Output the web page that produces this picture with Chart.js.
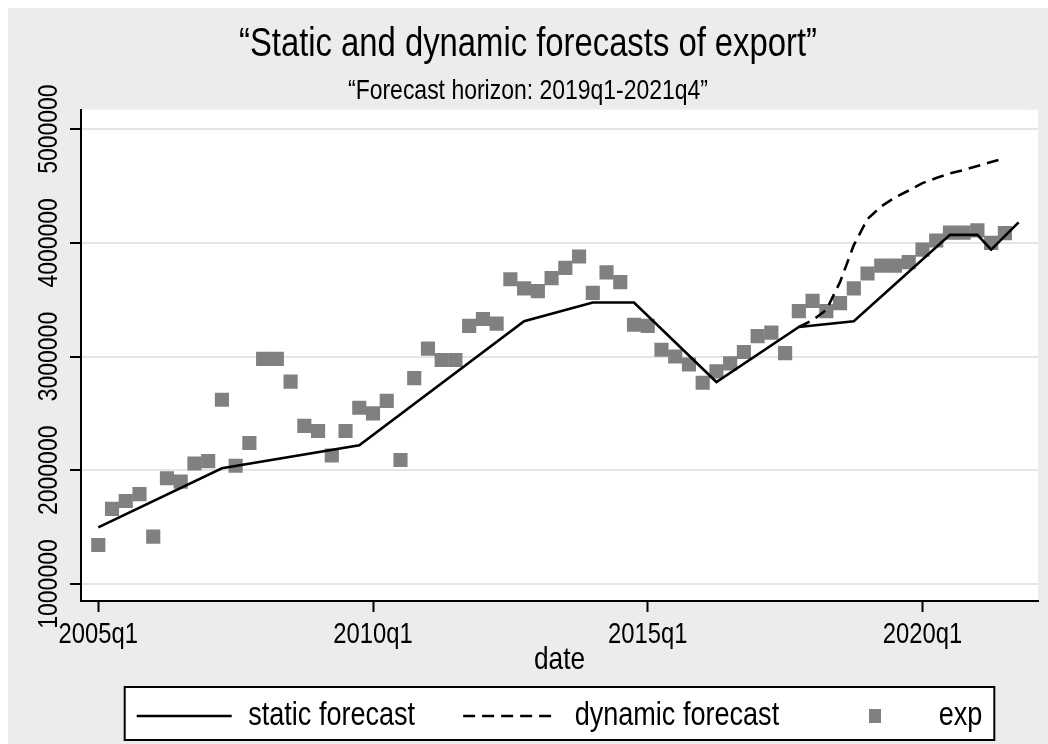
<!DOCTYPE html>
<html>
<head>
<meta charset="utf-8">
<script src="https://cdn.jsdelivr.net/npm/chart.js@4/dist/chart.umd.min.js"></script>
<style>
  html, body { margin: 0; padding: 0; background: #ffffff; }
  canvas { display: block; }
</style>
</head>
<body>
<canvas id="chart" width="1048" height="744"></canvas>
<script>
// Quarterly dates 2005q1 .. 2021q4
const quarters = [];
for (let yr = 2005; yr <= 2021; yr++) for (let q = 1; q <= 4; q++) quarters.push(yr + 'q' + q);

// Exports (observed), 2005q1 .. 2021q3
const expValues = [
  1343000, 1660000, 1730000, 1790000, 1416000, 1930000, 1900000, 2060000,
  2080000, 2620000, 2040000, 2240000, 2980000, 2980000, 2780000, 2390000,
  2345000, 2130000, 2345000, 2550000, 2500000, 2610000, 2090000, 2810000,
  3070000, 2970000, 2970000, 3270000, 3330000, 3290000, 3680000, 3600000,
  3575000, 3690000, 3780000, 3880000, 3560000, 3740000, 3655000, 3280000,
  3270000, 3060000, 3000000, 2930000, 2770000, 2870000, 2940000, 3040000,
  3180000, 3210000, 3030000, 3400000, 3490000, 3400000, 3470000, 3600000,
  3730000, 3800000, 3800000, 3830000, 3940000, 4020000, 4090000, 4090000,
  4110000, 4000000, 4085000
];

// Static forecast: quarter index -> value (connected across missing quarters)
const staticQuarterIdx = [0, 9, 19, 31, 36, 39, 45, 51, 55, 62, 64, 65, 67];
const staticValues = [1498000, 2017000, 2220000, 3310000, 3475000, 3475000, 2776000,
                      3260000, 3310000, 4070000, 4070000, 3940000, 4180000];

// Dynamic forecast: 2017q4 .. 2021q3
const dynamicStartIdx = 51;
const dynamicValues = [3260000, 3320000, 3410000, 3655000, 3980000, 4210000, 4320000, 4400000,
                       4460000, 4525000, 4570000, 4610000, 4640000, 4675000, 4710000, 4745000];

const xTickIdx = [0, 20, 40, 60];
const xTickLabels = ['2005q1', '2010q1', '2015q1', '2020q1'];
const yTickValues = [1000000, 2000000, 3000000, 4000000, 5000000];
const yTickLabels = ['1000000', '2000000', '3000000', '4000000', '5000000'];

const seriesNames = ['static forecast', 'dynamic forecast', 'exp'];
const titleText = '\u201CStatic and dynamic forecasts of export\u201D';
const subtitleText = '\u201CForecast horizon: 2019q1-2021q4\u201D';
const xAxisTitle = 'date';

const FONT = "'Liberation Sans', Arial, sans-serif";
const REGION_BG = 'rgb(235,236,236)';
const GRID = 'rgb(228,229,229)';
const MARKER = 'rgb(128,128,128)';
const DASH = [12, 7];
const LINE_W = 2.6;

const canvas = document.getElementById('chart');
const context = canvas.getContext('2d');

// Condensed lettering: every text run is squeezed horizontally about its anchor,
// and measured widths are reported squeezed too so the layout stays consistent.
const SQUEEZE = 0.82;
(function (c) {
  const proto = CanvasRenderingContext2D.prototype;
  c.fillText = function (text, x, y, maxWidth) {
    this.save();
    this.translate(x, y);
    this.scale(SQUEEZE, 1);
    if (maxWidth === undefined || maxWidth === null) proto.fillText.call(this, text, 0, 0);
    else proto.fillText.call(this, text, 0, 0, maxWidth / SQUEEZE);
    this.restore();
  };
  c.measureText = function (text) {
    const m = proto.measureText.call(this, text);
    return {
      width: m.width * SQUEEZE,
      actualBoundingBoxLeft: m.actualBoundingBoxLeft * SQUEEZE,
      actualBoundingBoxRight: m.actualBoundingBoxRight * SQUEEZE,
      actualBoundingBoxAscent: m.actualBoundingBoxAscent,
      actualBoundingBoxDescent: m.actualBoundingBoxDescent,
      fontBoundingBoxAscent: m.fontBoundingBoxAscent,
      fontBoundingBoxDescent: m.fontBoundingBoxDescent
    };
  };
})(context);

const expPoints = expValues.map((v, i) => ({ x: i, y: v }));
const staticPoints = staticQuarterIdx.map((q, i) => ({ x: q, y: staticValues[i] }));
const dynamicPoints = dynamicValues.map((v, i) => ({ x: dynamicStartIdx + i, y: v }));

// legend key for the marker series
const keySquare = document.createElement('canvas');
keySquare.width = 12; keySquare.height = 14;
(function () { const c = keySquare.getContext('2d'); c.fillStyle = MARKER; c.fillRect(0, 0, 12, 14); })();

const backdrop = {
  id: 'backdrop',
  beforeDraw(chart) {
    const { ctx, chartArea: a, legend } = chart;
    ctx.save();
    ctx.fillStyle = '#ffffff';
    ctx.fillRect(0, 0, chart.width, chart.height);
    ctx.fillStyle = REGION_BG;
    ctx.fillRect(8, 8, chart.width - 8, chart.height - 8);
    ctx.fillStyle = '#ffffff';
    ctx.fillRect(a.left, a.top, a.right - a.left, a.bottom - a.top);
    if (legend && legend.legendHitBoxes && legend.legendHitBoxes.length) {
      const hb = legend.legendHitBoxes;
      const first = hb[0], last = hb[hb.length - 1];
      const cy = first.top + first.height / 2;
      const l = first.left - 12, r = last.left + last.width + 12;
      const t = cy - 29, b = cy + 24;
      ctx.fillStyle = '#ffffff';
      ctx.fillRect(l, t, r - l, b - t);
      ctx.strokeStyle = '#000000';
      ctx.lineWidth = 2;
      ctx.strokeRect(l, t, r - l, b - t);
    }
    ctx.restore();
  }
};

const yLabels = {
  id: 'yLabels',
  afterDraw(chart) {
    const s = chart.scales.y;
    const ctx = chart.ctx;
    ctx.save();
    ctx.font = '28px ' + FONT;
    ctx.fillStyle = '#000000';
    ctx.textAlign = 'center';
    ctx.textBaseline = 'middle';
    s.ticks.forEach((t, i) => {
      const y = s.getPixelForValue(t.value);
      ctx.save();
      ctx.translate(49, y);
      ctx.rotate(-Math.PI / 2);
      ctx.fillText(yTickLabels[i], 0, 0);
      ctx.restore();
    });
    ctx.restore();
  }
};

new Chart(context, {
  type: 'line',
  data: {
    datasets: [
      {
        label: seriesNames[0], data: staticPoints,
        borderColor: '#000000', backgroundColor: '#000000', borderWidth: LINE_W,
        pointRadius: 0, pointStyle: 'line', spanGaps: true, tension: 0, order: 1
      },
      {
        label: seriesNames[1], data: dynamicPoints,
        borderColor: '#000000', backgroundColor: '#000000', borderWidth: LINE_W,
        borderDash: DASH, pointRadius: 0, pointStyle: 'line', spanGaps: true, tension: 0, order: 2
      },
      {
        label: seriesNames[2], data: expPoints, showLine: false,
        pointStyle: 'rect', pointRadius: 10, pointBorderWidth: 0,
        pointBackgroundColor: MARKER, pointBorderColor: MARKER,
        backgroundColor: MARKER, borderColor: MARKER, order: 3
      }
    ]
  },
  options: {
    responsive: false,
    animation: false,
    devicePixelRatio: 1,
    layout: { padding: { top: 21, left: 17, right: 9, bottom: 1.5 } },
    scales: {
      x: {
        type: 'linear', min: -1.258, max: 68.41,
        afterBuildTicks(s) { s.ticks = xTickIdx.map(v => ({ value: v })); },
        afterFit(s) { s.height = 50.5; },
        ticks: {
          font: { family: FONT, size: 29 }, color: '#000000', padding: 6,
          maxRotation: 0, autoSkip: false,
          callback(v) { const k = xTickIdx.indexOf(v); return k >= 0 ? xTickLabels[k] : ''; }
        },
        grid: { drawOnChartArea: false, drawTicks: true, tickLength: 11, tickColor: '#000000', tickWidth: 2 },
        border: { display: true, color: '#000000', width: 2 },
        title: { display: true, text: xAxisTitle, color: '#000000', font: { family: FONT, size: 32 }, padding: { top: 0, bottom: -28 } }
      },
      y: {
        type: 'linear', min: 850500, max: 5171400,
        afterBuildTicks(s) { s.ticks = yTickValues.map(v => ({ value: v })); },
        afterFit(s) { s.width = 64; },
        ticks: { display: false },
        grid: { color: GRID, lineWidth: 2, drawTicks: true, tickLength: 11, tickColor: '#000000', tickWidth: 2 },
        border: { display: true, color: '#000000', width: 2 }
      }
    },
    plugins: {
      title: {
        display: true, text: titleText, color: '#000000',
        font: { family: FONT, size: 40, weight: 'normal' }, padding: { top: 0, bottom: 0 }
      },
      subtitle: {
        display: true, text: subtitleText, color: '#000000',
        font: { family: FONT, size: 28, weight: 'normal' }, padding: { top: 5, bottom: 2 }
      },
      legend: {
        position: 'bottom', fullSize: false,
        labels: {
          usePointStyle: true, pointStyleWidth: 95, padding: 48,
          font: { family: FONT, size: 33 }, color: '#000000',
          generateLabels(chart) {
            const items = Chart.defaults.plugins.legend.labels.generateLabels(chart);
            items.forEach(it => {
              if (it.text === seriesNames[2]) {
                it.pointStyle = keySquare;
              } else {
                it.lineWidth = LINE_W;
                it.strokeStyle = '#000000';
                it.lineDash = it.text === seriesNames[1] ? DASH : [];
              }
            });
            return items;
          }
        }
      },
      tooltip: { enabled: false }
    }
  },
  plugins: [backdrop, yLabels]
});
</script>
</body>
</html>
